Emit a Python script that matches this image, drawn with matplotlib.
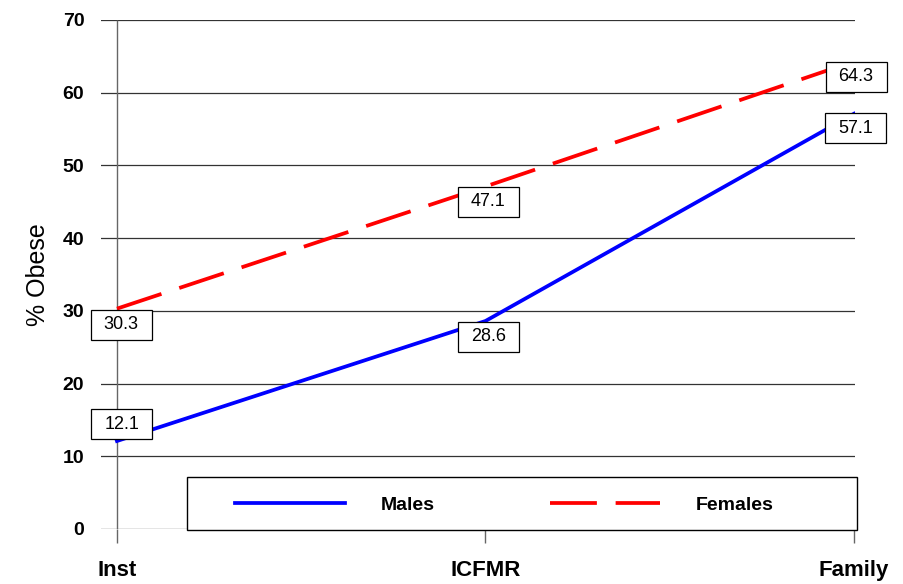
import matplotlib.pyplot as plt
from matplotlib.path import Path
from matplotlib.patches import Rectangle

settings = ['Inst', 'ICFMR', 'Family']
males = [12.1, 28.6, 57.1]
females = [30.3, 47.1, 64.3]

plt.rcParams['font.family'] = ['Liberation Sans', 'DejaVu Sans']


def wide_box(x0, y0, width, height, mutation_size):
    # square box, more padding left/right than top/bottom
    px = 0.72 * mutation_size
    py = 0.36 * mutation_size
    x0, y0 = x0 - px, y0 - py
    x1, y1 = x0 + width + 2 * px, y0 + height + 2 * py
    return Path([(x0, y0), (x1, y0), (x1, y1), (x0, y1), (x0, y0)], closed=True)


fig = plt.figure(figsize=(9.04, 5.84), dpi=100)
ax = fig.add_axes([0.1117, 0.0942, 0.834, 0.8716])

x = list(range(len(settings)))

# grid lines, y axis line at first category, ticks below zero
for yv in range(0, 71, 10):
    ax.axhline(yv, color='#333333', lw=0.9, zorder=1)
ax.vlines(x[0], 0, 70, color='#666666', lw=1.0, zorder=1)
ax.vlines(x, -1.9, 0, color='#666666', lw=1.0, clip_on=False, zorder=1)

ax.plot(x, males, color='#0000ff', lw=2.7, label='Males', zorder=3)
ax.plot(x, females, color='#ff0000', lw=2.7, dashes=(12.5, 5), label='Females', zorder=3)

box = dict(boxstyle=wide_box, fc='white', ec='black', lw=0.9)
male_off = [(3.5, 12), (2, -11.5), (1, -10.5)]
female_off = [(3, -11.5), (2, -11), (1.5, -11)]
for xi, v, off in zip(x, males, male_off):
    ax.annotate(f'{v:.1f}', (xi, v), xytext=off, textcoords='offset points',
                ha='center', va='center', fontsize=13, bbox=box, zorder=5)
for xi, v, off in zip(x, females, female_off):
    ax.annotate(f'{v:.1f}', (xi, v), xytext=off, textcoords='offset points',
                ha='center', va='center', fontsize=13, bbox=box, zorder=5)

ax.set_xlim(-0.0434, 2.0027)
ax.set_ylim(0, 70)
ax.set_yticks(range(0, 71, 10))
ax.set_xticks(x)
ax.set_xticklabels(settings, fontsize=16, fontweight='bold')
ax.tick_params(axis='y', length=0, pad=12, labelsize=14)
ax.tick_params(axis='x', length=0, pad=22)
for lab in ax.get_yticklabels():
    lab.set_fontweight('bold')
for s in ax.spines.values():
    s.set_visible(False)

ax.set_ylabel('% Obese', fontsize=18, labelpad=9)

# legend frame and entries
frame = Rectangle((0.114, -0.002), 0.8886, 0.1042, transform=ax.transAxes,
                  fc='white', ec='black', lw=1.0, zorder=6, clip_on=False)
ax.add_patch(frame)
leg = ax.legend(loc='center left', bbox_to_anchor=(0.1777, 0.0472), ncol=2,
                frameon=False, borderpad=0, borderaxespad=0,
                handlelength=5.66, handletextpad=1.85, columnspacing=5.9,
                prop={'weight': 'bold', 'size': 14})
leg.set_zorder(7)

fig.savefig('out.png', dpi=100)
